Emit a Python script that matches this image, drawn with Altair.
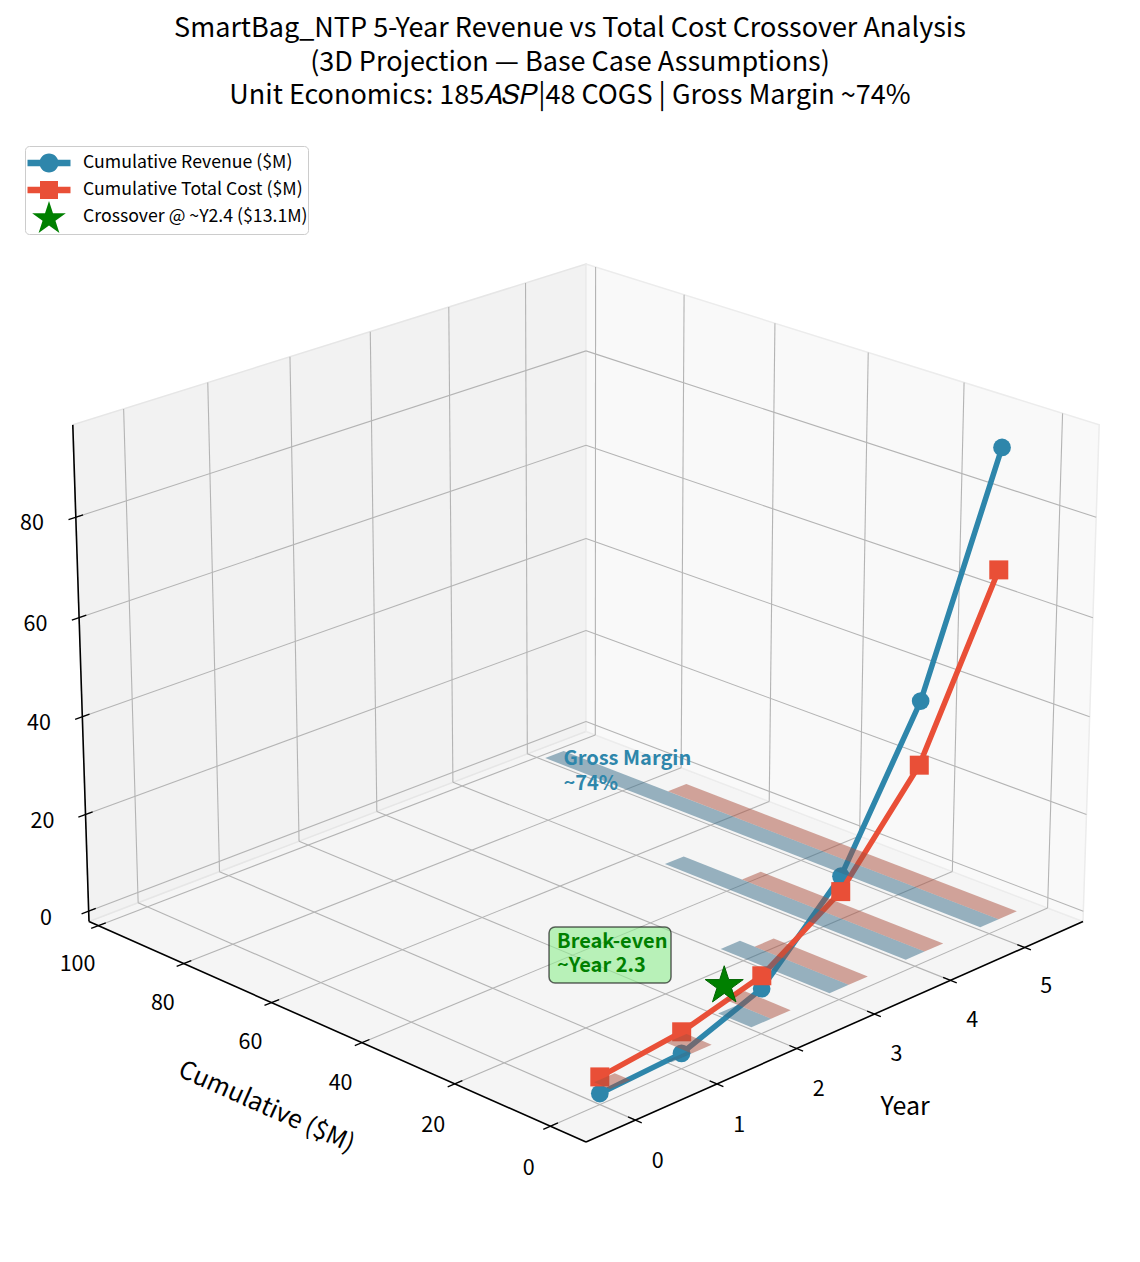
import numpy as np
import pandas as pd
import altair as alt

# ----------------------------------------------------------------- data
years = [0, 1, 2, 3, 4, 5]
revenue = [0.0, 0.9, 6.9, 22.8, 51.5, 95.8]
total_cost = [3.3, 5.2, 9.5, 19.7, 38.7, 71.7]
crossover_year = 2.33
crossover_value = 13.1
year_ticks = [0, 1, 2, 3, 4, 5]
cum_ticks = [0, 20, 40, 60, 80, 100]
z_ticks = [0, 20, 40, 60, 80]
series_names = ["Cumulative Revenue ($M)", "Cumulative Total Cost ($M)",
                "Crossover @ ~Y2.4 ($13.1M)"]
title_lines = ["SmartBag_NTP 5-Year Revenue vs Total Cost Crossover Analysis",
               "(3D Projection \u2014 Base Case Assumptions)",
               "Unit Economics: 185\U0001D434\U0001D446\U0001D443|48 COGS | Gross Margin ~74%"]
x_title = "Year"
y_title = "Cumulative ($M)"
margin_note = "Gross Margin\n~74%"
breakeven_note = "Break-even\n~Year 2.3"

# ----------------------------------------------------------------- view / style
FONT = "Noto Sans CJK SC"
BLUE, RED, GREEN, DKGREEN = "#2E86AB", "#E94F37", "#008000", "#006400"
XLIM = (-0.593, 5.804)
YLIM = (-7.3, 102.2)
ZLIM = (-2.17, 98.2)
ELEV, AZIM, DIST = 22.0, -135.0, 10.0
BAR_W = 0.25
CX, CY, PIX = 586.0, 677.2, 6248.6
W, H, PAD_TOP = 1124, 1128, 110

box = np.array([4.0, 4.0, 3.0])
box = box * 1.8294640721620434 / np.linalg.norm(box)
el, az = np.radians(ELEV), np.radians(AZIM)
w_ax = np.array([np.cos(el) * np.cos(az), np.cos(el) * np.sin(az), np.sin(el)])
u_ax = np.array([-np.sin(az), np.cos(az), 0.0])
v_ax = np.cross(w_ax, u_ax)


def proj(x, y, z):
    n = np.array([(x - XLIM[0]) / (XLIM[1] - XLIM[0]),
                  (y - YLIM[0]) / (YLIM[1] - YLIM[0]),
                  (z - ZLIM[0]) / (ZLIM[1] - ZLIM[0])])
    p = n * box - box / 2
    den = DIST - p @ w_ax
    return float(p @ u_ax / den), float(p @ v_ax / den)


XS = alt.Scale(domain=[(8 - CX) / PIX, (8 + W - CX) / PIX], range=[0, W], zero=False, nice=False)
YS = alt.Scale(domain=[(CY - 8 - PAD_TOP - H) / PIX, (CY - 8 - PAD_TOP) / PIX], range=[H, 0],
               zero=False, nice=False)


def xy():
    return dict(x=alt.X("x:Q", scale=XS, axis=None), y=alt.Y("y:Q", scale=YS, axis=None))


def poly_layer(polys, fill, stroke, sw, fo=1.0):
    rows = []
    for g, pts in enumerate(polys):
        for k, pt in enumerate(pts):
            px, py = proj(*pt)
            rows.append({"g": g, "k": k, "x": px, "y": py})
    return alt.Chart(pd.DataFrame(rows)).mark_line(
        interpolate="linear-closed", fill=fill, stroke=stroke, strokeWidth=sw, fillOpacity=fo
    ).encode(**xy(), detail="g:N", order="k:Q")


def seg_layer(segs, color, sw):
    rows = []
    for a, b in segs:
        xa, ya = proj(*a)
        xb, yb = proj(*b)
        rows.append({"x": xa, "y": ya, "x2": xb, "y2": yb})
    return alt.Chart(pd.DataFrame(rows)).mark_rule(color=color, strokeWidth=sw).encode(
        **xy(), x2="x2:Q", y2="y2:Q")


def text_layer(items, size, **kw):
    rows = []
    for (x, y, z, t) in items:
        px, py = proj(x, y, z)
        rows.append({"x": px, "y": py, "t": t})
    return alt.Chart(pd.DataFrame(rows)).mark_text(font=FONT, fontSize=size, **kw).encode(
        **xy(), text="t:N")


x0, x1 = XLIM
y0, y1 = YLIM
z0, z1 = ZLIM

# panes
floor = poly_layer([[(x0, y0, z0), (x1, y0, z0), (x1, y1, z0), (x0, y1, z0)]], "#f5f5f5", "#ebebeb", 1)
wall_left = poly_layer([[(x0, y1, z0), (x1, y1, z0), (x1, y1, z1), (x0, y1, z1)]], "#f2f2f2", "#e6e6e6", 1.5)
wall_right = poly_layer([[(x1, y0, z0), (x1, y1, z0), (x1, y1, z1), (x1, y0, z1)]], "#f9f9f9", "#ececec", 1.5)

# grid
grid = []
for xt in year_ticks:
    grid += [((xt, y0, z0), (xt, y1, z0)), ((xt, y1, z0), (xt, y1, z1))]
for yt in cum_ticks:
    grid += [((x0, yt, z0), (x1, yt, z0)), ((x1, yt, z0), (x1, yt, z1))]
for zt in z_ticks:
    grid += [((x0, y1, zt), (x1, y1, zt)), ((x1, y0, zt), (x1, y1, zt))]
grid_layer = seg_layer(grid, "#b4b4b4", 1.1)

axes_layer = seg_layer([((x0, y0, z0), (x1, y0, z0)), ((x0, y0, z0), (x0, y1, z0)),
                        ((x0, y1, z0), (x0, y1, z1))], "black", 1.6)
ticks = ([((xt, y0 - 1.3, z0), (xt, y0 + 1.5, z0)) for xt in year_ticks]
         + [((x0 - 0.085, yt, z0), (x0 + 0.09, yt, z0)) for yt in cum_ticks]
         + [((x0 - 0.085, y1, zt), (x0 + 0.085, y1, zt)) for zt in z_ticks])
ticks_layer = seg_layer(ticks, "black", 1.3)

tick_labels = ([(xt, y0 - 4.6, z0 - 6.4, str(xt)) for xt in year_ticks]
               + [(x0 - 0.26, yt, z0 - 6.5, str(yt)) for yt in cum_ticks]
               + [(x0 - 0.39, y1 + 2.4, zt, str(zt)) for zt in z_ticks])
tick_text = text_layer(tick_labels, 21.5, color="black", align="center", baseline="middle")
xtitle = text_layer([(2.6, y0 - 12.7, z0 - 10.8, x_title)], 25, color="black",
                    align="center", baseline="middle")
ytitle = text_layer([(x0 - 0.74, (y0 + y1) / 2, z0 - 10.8, y_title)], 25, color="black",
                    align="center", baseline="middle", angle=24)


# series
def series_df(vals):
    rows = []
    for yr, v in zip(years, vals):
        px, py = proj(yr, 0.0, v)
        rows.append({"year": yr, "value": v, "x": px, "y": py})
    return pd.DataFrame(rows)


rev_df = series_df(revenue)
cost_df = series_df(total_cost)
rev_line = alt.Chart(rev_df).mark_line(color=BLUE, strokeWidth=5.5).encode(**xy(), order="year:Q")
rev_pts = alt.Chart(rev_df).mark_point(shape="circle", filled=True, size=314, color=BLUE,
                                       opacity=1).encode(**xy())
cost_line = alt.Chart(cost_df).mark_line(color=RED, strokeWidth=5.5).encode(**xy(), order="year:Q")
cost_pts = alt.Chart(cost_df).mark_point(shape="square", filled=True, size=361, color=RED,
                                         opacity=1).encode(**xy())

# floor strips (bars lying on z = 0)
rev_strips = [[(yr - BAR_W / 2, 0, 0), (yr + BAR_W / 2, 0, 0), (yr + BAR_W / 2, v, 0), (yr - BAR_W / 2, v, 0)]
              for yr, v in zip(years, revenue) if v > 0]
cost_strips = [[(yr + BAR_W / 2, 0, 0), (yr + 1.5 * BAR_W, 0, 0), (yr + 1.5 * BAR_W, v, 0), (yr + BAR_W / 2, v, 0)]
               for yr, v in zip(years, total_cost) if v > 0]
rev_strip_layer = poly_layer(rev_strips, "#376B87", "#376B87", 0, 0.5)
cost_strip_layer = poly_layer(cost_strips, "#AB4F3D", "#AB4F3D", 0, 0.5)

# crossover star
STAR = ("M0,-1L0.2245,-0.309L0.9511,-0.309L0.3633,0.118L0.5878,0.809L0,0.382"
        "L-0.5878,0.809L-0.3633,0.118L-0.9511,-0.309L-0.2245,-0.309Z")
sx, sy = proj(crossover_year, crossover_value, 0.0)
star_df = pd.DataFrame({"x": [sx], "y": [sy], "x2": [sx], "y2": [sy], "t": [breakeven_note]})
star_layer = alt.Chart(star_df).mark_point(shape=STAR, filled=True, size=1600, color=GREEN,
                                           stroke=DKGREEN, strokeWidth=1, opacity=1).encode(**xy())
be_box = alt.Chart(star_df).mark_rect(
    xOffset=-175.2, x2Offset=-53.2, yOffset=-58.8, y2Offset=-2.8, cornerRadius=6,
    fill="#90EE90", fillOpacity=0.6, stroke="black", strokeOpacity=0.6, strokeWidth=1.5
).encode(**xy(), x2="x2:Q", y2="y2:Q")
be_text = alt.Chart(star_df).mark_text(
    font=FONT, fontSize=20, fontWeight="bold", color=GREEN, align="left", baseline="alphabetic",
    dx=-167.2, dy=-37.8, lineBreak="\n", lineHeight=24
).encode(**xy(), text="t:N")

gx, gy = proj(years[-1], revenue[-1], 0.0)
gm_df = pd.DataFrame({"x": [gx], "y": [gy], "t": [margin_note]})
gm_text = alt.Chart(gm_df).mark_text(
    font=FONT, fontSize=20, fontWeight="bold", color=BLUE, align="left", baseline="alphabetic",
    dx=9, dy=10.5, lineBreak="\n", lineHeight=24.5
).encode(**xy(), text="t:N")

# legend (symbols: line + marker; zero-area corner segments give every entry the same extent)
FRAME = "M-2.4,-1.6L-2.39,-1.6Z M-2.4,1.6L-2.39,1.6Z "
P_REV = (FRAME + "M-2.15,-0.32H2.15V0.32H-2.15Z "
         "M-0.95,0A0.95,0.95 0 1,1 0.95,0A0.95,0.95 0 1,1 -0.95,0Z")
P_COST = FRAME + "M-2.15,-0.32H2.15V0.32H-2.15Z M-0.9,-0.9H0.9V0.9H-0.9Z"
P_STAR_L = (FRAME + "M0,-1.6L0.397,-0.377L1.683,-0.377L0.643,0.379L1.04,1.602L0,0.846"
            "L-1.04,1.602L-0.643,0.379L-1.683,-0.377L-0.397,-0.377Z")
LEG = alt.Legend(title=" ", titleFontSize=1, titlePadding=6, orient="none", legendX=17, legendY=28,
                 padding=0, fillColor="white", strokeColor="#cccccc", cornerRadius=4,
                 labelFont=FONT, labelFontSize=17.7, labelColor="black", labelLimit=500,
                 labelOffset=24, symbolOffset=14, symbolSize=400, symbolStrokeWidth=0,
                 rowPadding=-5)
legend_layer = alt.Chart(pd.DataFrame({"series": series_names})).transform_filter("false").mark_point(
    filled=True, opacity=1, size=400
).encode(
    color=alt.Color("series:N", scale=alt.Scale(domain=series_names, range=[BLUE, RED, GREEN]), legend=LEG),
    shape=alt.Shape("series:N", scale=alt.Scale(domain=series_names, range=[P_REV, P_COST, P_STAR_L]),
                    legend=LEG),
)

chart = alt.layer(
    floor, wall_left, wall_right, grid_layer, axes_layer, ticks_layer, tick_text, xtitle, ytitle,
    rev_line, rev_pts, cost_line, cost_pts, rev_strip_layer, cost_strip_layer,
    be_box, be_text, star_layer, gm_text, legend_layer
).properties(
    width=W, height=H,
    padding={"left": 0, "top": PAD_TOP, "right": 0, "bottom": 0},
    autosize=alt.AutoSizeParams(type="none"),
    title=alt.Title(text=title_lines, font=FONT, fontSize=27, fontWeight="normal",
                    lineHeight=33.3, anchor="middle", baseline="top", offset=8, color="black"),
).configure(background="white").configure_view(strokeWidth=0)

chart.save("out.html", embed_options={"renderer": "svg", "actions": False})
